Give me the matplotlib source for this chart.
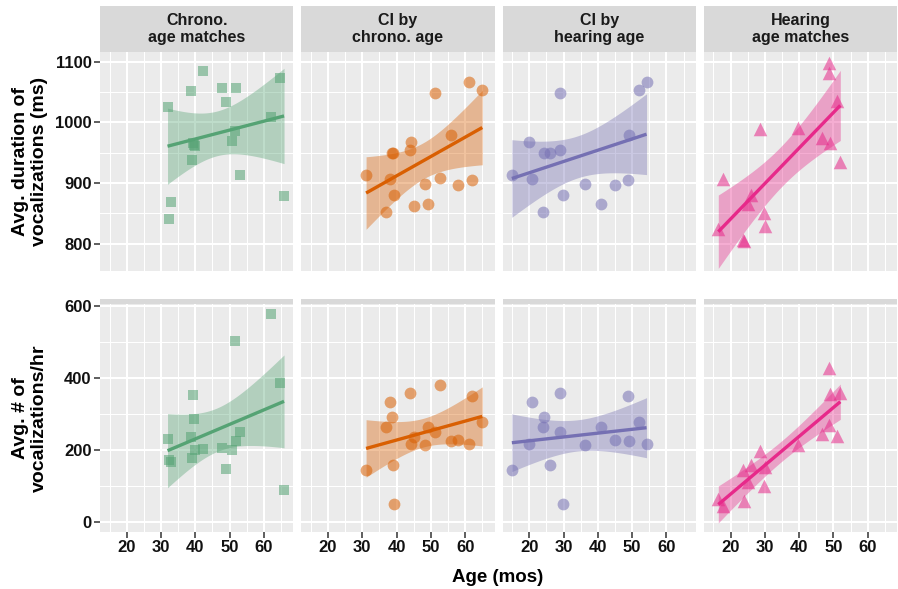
import numpy as np
import matplotlib.pyplot as plt

# ---- data ----
panel_titles = ["Chrono.\nage matches", "CI by\nchrono. age", "CI by\nhearing age", "Hearing\nage matches"]

# TD children, chronological age matches
td_chrono_age = np.array([31.9, 32.3, 32.9, 38.8, 39.1, 39.3, 39.5, 40.0, 42.2, 47.8, 48.9, 50.8,
                          51.6, 52.0, 53.0, 62.1, 64.8, 65.9])
td_chrono_dur = np.array([1026, 841, 868, 1052, 938, 966, 963, 961, 1084, 1056, 1033, 969,
                          985, 1056, 913, 1009, 1073, 879])
td_chrono_rate = np.array([230, 173, 168, 236, 177, 352, 286, 199, 202, 205, 148, 200,
                           504, 224, 251, 578, 387, 90])

# CI children (chronological age and hearing age; nan = not in hearing-age panel)
ci_chrono_age = np.array([31.1, 36.8, 38.0, 38.8, 39.0, 39.2, 43.9, 44.2, 45.1, 48.2, 49.1, 51.2,
                          52.8, 56.0, 58.0, 61.1, 62.1, 65.0])
ci_hearing_age = np.array([14.9, 24.0, 20.8, 24.2, 26.0, 29.8, 29.0, 20.0, np.nan, 36.1, 41.0, 28.9,
                           np.nan, 49.0, 45.0, 54.2, 48.9, 51.9])
ci_dur = np.array([914, 852, 906, 949, 949, 881, 954, 967, 862, 899, 866, 1049,
                   909, 980, 896, 1066, 905, 1054])
ci_rate = np.array([145, 265, 334, 293, 159, 50, 359, 216, 236, 214, 264, 250,
                    382, 226, 228, 218, 350, 277])

# TD children, hearing age matches
td_hearing_age = np.array([16.4, 17.8, 23.6, 23.8, 25.2, 26.0, 28.6, 29.6, 30.1, 39.7, 46.6, 48.6,
                           48.8, 49.0, 50.9, 52.0])
td_hearing_dur = np.array([824, 906, 806, 804, 866, 881, 989, 851, 829, 990, 975, 1098,
                           1082, 966, 1035, 935])
td_hearing_rate = np.array([64, 45, 145, 57, 110, 158, 197, 101, 154, 214, 245, 427,
                            270, 356, 238, 358])

group_colors = ["#55a374", "#D95F02", "#7570B3", "#E7298A"]
group_markers = ["s", "o", "o", "^"]
marker_sizes = [60, 72, 72, 95]

panels_x = [td_chrono_age, ci_chrono_age, ci_hearing_age, td_hearing_age]
panels_dur = [td_chrono_dur, ci_dur, ci_dur, td_hearing_dur]
panels_rate = [td_chrono_rate, ci_rate, ci_rate, td_hearing_rate]

# t quantiles (0.975) by degrees of freedom, for the lm confidence band
T975 = {12: 2.179, 13: 2.160, 14: 2.145, 15: 2.131, 16: 2.120, 17: 2.110, 18: 2.101}


def lm_band(x, y):
    ok = ~np.isnan(x)
    x, y = x[ok], y[ok]
    n = len(x)
    b1, b0 = np.polyfit(x, y, 1)
    xs = np.linspace(x.min(), x.max(), 80)
    fit = b0 + b1 * xs
    resid = y - (b0 + b1 * x)
    s = np.sqrt(np.sum(resid ** 2) / (n - 2))
    se = s * np.sqrt(1 / n + (xs - x.mean()) ** 2 / np.sum((x - x.mean()) ** 2))
    t = T975[n - 2]
    return xs, fit, fit - t * se, fit + t * se


W, H = 898, 589
fig = plt.figure(figsize=(W / 100, H / 100), dpi=100)
plt.rcParams['font.family'] = ['Liberation Sans', 'DejaVu Sans']


def px_axes(x0, y0, w, h):
    return fig.add_axes([x0 / W, 1 - (y0 + h) / H, w / W, h / H])


pw, gap = 193.3, 8.0
lefts = [100 + i * (pw + gap) for i in range(4)]
rows = [
    dict(strip=(6, 46), panel=(52, 219), ylim=(755, 1116), major=[800, 900, 1000, 1100],
         minor=[750, 850, 950, 1050]),
    dict(strip=(299, 5), panel=(304, 228), ylim=(-28, 606), major=[0, 200, 400, 600],
         minor=[100, 300, 500]),
]
xlim = (12.2, 68.6)
x_major = [20, 30, 40, 50, 60]
x_minor = [15, 25, 35, 45, 55, 65]

for r, row in enumerate(rows):
    ys = panels_dur if r == 0 else panels_rate
    for c in range(4):
        st = px_axes(lefts[c], row['strip'][0], pw, row['strip'][1])
        st.set_facecolor('#D9D9D9')
        st.set_xticks([])
        st.set_yticks([])
        for sp in st.spines.values():
            sp.set_visible(False)
        if r == 0:
            st.text(0.5, 0.5, panel_titles[c], ha='center', va='center', fontsize=11.5,
                    fontweight='bold', color='#1a1a1a', linespacing=1.12, transform=st.transAxes)

        ax = px_axes(lefts[c], row['panel'][0], pw, row['panel'][1])
        ax.set_facecolor('#EBEBEB')
        for sp in ax.spines.values():
            sp.set_visible(False)
        ax.set_xlim(*xlim)
        ax.set_ylim(*row['ylim'])
        for v in x_minor:
            ax.axvline(v, color='white', lw=0.75, zorder=0)
        for v in x_major:
            ax.axvline(v, color='white', lw=1.5, zorder=0)
        for v in row['minor']:
            ax.axhline(v, color='white', lw=0.75, zorder=0)
        for v in row['major']:
            ax.axhline(v, color='white', lw=1.5, zorder=0)

        x, y = panels_x[c], ys[c]
        col = group_colors[c]
        ax.scatter(x, y, s=marker_sizes[c], marker=group_markers[c], color=col,
                   alpha=0.55, linewidths=0, zorder=2)
        xs, fit, lo, hi = lm_band(x, y)
        ax.fill_between(xs, lo, hi, color=col, alpha=0.38, linewidth=0, zorder=3)
        ax.plot(xs, fit, color=col, lw=2.4, zorder=4, solid_capstyle='butt')

        ax.set_xticks(x_major)
        ax.set_yticks(row['major'])
        ax.tick_params(length=4, width=1.1, color='#333333', labelsize=12, pad=2,
                       labelcolor='#111111')
        if r == 1:
            ax.set_xticklabels([str(v) for v in x_major], fontweight='bold')
        else:
            ax.tick_params(axis='x', length=0, labelbottom=False)
        if c == 0:
            ax.set_yticklabels([str(v) for v in row['major']], fontweight='bold')
        else:
            ax.tick_params(axis='y', length=0, labelleft=False)

fig.text(30 / W, 1 - 161 / H, "Avg. duration of\nvocalizations (ms)", rotation=90, ha='center',
         va='center', fontsize=14, fontweight='bold', multialignment='center', linespacing=1.1)
fig.text(30 / W, 1 - 418 / H, "Avg. # of\nvocalizations/hr", rotation=90, ha='center',
         va='center', fontsize=14, fontweight='bold', multialignment='center', linespacing=1.1)
fig.text(498 / W, 1 - 577 / H, "Age (mos)", ha='center', va='center', fontsize=13.5,
         fontweight='bold')

fig.savefig("out.png", dpi=100)
